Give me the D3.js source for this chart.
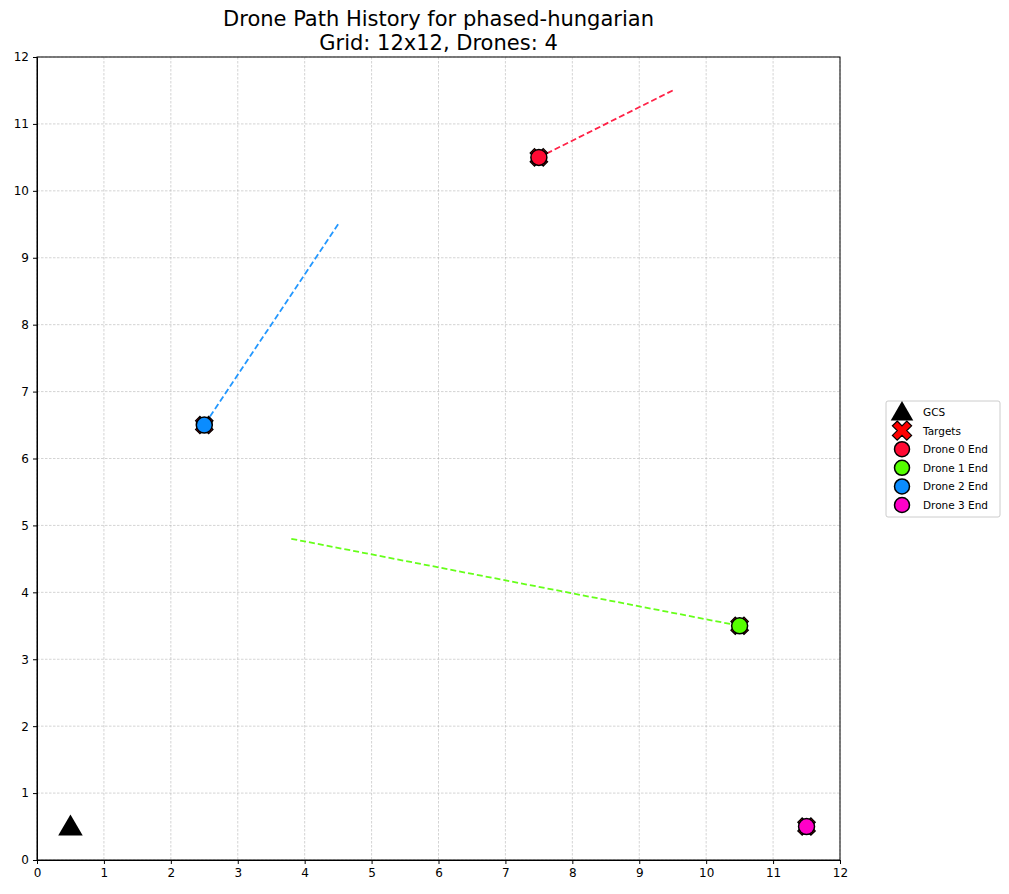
<!DOCTYPE html>
<html><head><meta charset="UTF-8">
<script src="https://d3js.org/d3.v7.min.js"></script>
<style>body{margin:0;background:#fff;font-family:"DejaVu Sans",sans-serif}</style>
</head><body><div id="chart"></div>
<script>
const droneNames = ["Drone 0", "Drone 1", "Drone 2", "Drone 3"];
const droneColors = ["#ff0a33", "#55ff00", "#0a8cff", "#ff00c8"];
const pathStarts = [[9.5, 11.5], [3.8, 4.8], [4.5, 9.5], [11.5, 0.5]];
const pathEnds = [[7.5, 10.5], [10.5, 3.5], [2.5, 6.5], [11.5, 0.5]];
const targets = [[7.5, 10.5], [10.5, 3.5], [2.5, 6.5], [11.5, 0.5]];
const gcs = [0.5, 0.5];
const ticks = d3.range(0, 13);

const W = 1009, H = 894, L = 37, R = 840, T = 57, B = 860;
const svg = d3.select("#chart").append("svg").attr("width", W).attr("height", H);
const x = d3.scaleLinear().domain([0, 12]).range([L, R]);
const y = d3.scaleLinear().domain([0, 12]).range([B, T]);

svg.append("text").attr("x", (L + R) / 2).attr("y", 26).attr("text-anchor", "middle")
  .attr("font-size", 21).text("Drone Path History for phased-hungarian");
svg.append("text").attr("x", (L + R) / 2).attr("y", 50).attr("text-anchor", "middle")
  .attr("font-size", 21).text("Grid: 12x12, Drones: 4");

// grid
const grid = svg.append("g").attr("stroke", "#a8a8a8").attr("stroke-width", 0.5).attr("stroke-dasharray", "2.5,1.5");
ticks.forEach(t => {
  grid.append("line").attr("x1", x(t)).attr("x2", x(t)).attr("y1", T).attr("y2", B);
  grid.append("line").attr("y1", y(t)).attr("y2", y(t)).attr("x1", L).attr("x2", R);
});

svg.append("g").attr("transform", `translate(0,${B})`)
  .call(d3.axisBottom(x).tickValues(ticks).tickSize(4).tickPadding(4))
  .call(g => g.selectAll("text").attr("font-size", 12).attr("font-family", "DejaVu Sans"));
svg.append("g").attr("transform", `translate(${L},0)`)
  .call(d3.axisLeft(y).tickValues(ticks).tickSize(4).tickPadding(4))
  .call(g => g.selectAll("text").attr("font-size", 12).attr("font-family", "DejaVu Sans"));
svg.append("rect").attr("x", L).attr("y", T).attr("width", R - L).attr("height", B - T)
  .attr("fill", "none").attr("stroke", "#000");

// paths
droneNames.forEach((n, i) => {
  svg.append("line").attr("x1", x(pathStarts[i][0])).attr("y1", y(pathStarts[i][1]))
    .attr("x2", x(pathEnds[i][0])).attr("y2", y(pathEnds[i][1]))
    .attr("stroke", droneColors[i]).attr("stroke-opacity", 0.9)
    .attr("stroke-width", 1.8).attr("stroke-dasharray", "6,3");
});

function xMarker(g, cx, cy, s) {
  g.append("path").attr("d", d3.symbol(d3.symbolCross).size(s)())
    .attr("transform", `translate(${cx},${cy}) rotate(45)`)
    .attr("fill", "#ff0000").attr("stroke", "#000").attr("stroke-width", 1.2);
}
function tri(g, cx, cy, s) {
  g.append("path").attr("d", d3.symbol(d3.symbolTriangle).size(s)())
    .attr("transform", `translate(${cx},${cy + 2})`).attr("fill", "#000");
}
targets.forEach(t => xMarker(svg, x(t[0]), y(t[1]), 190));
tri(svg, x(gcs[0]), y(gcs[1]), 260);
pathEnds.forEach((p, i) => svg.append("circle").attr("cx", x(p[0])).attr("cy", y(p[1])).attr("r", 8)
  .attr("fill", droneColors[i]).attr("stroke", "#000").attr("stroke-width", 1.5));

// legend
const lg = svg.append("g").attr("transform", "translate(886,401)");
lg.append("rect").attr("width", 114).attr("height", 116).attr("rx", 2)
  .attr("fill", "#fff").attr("stroke", "#ccc");
const items = ["GCS", "Targets"].concat(droneNames.map(n => n + " End"));
items.forEach((t, i) => {
  const cy = 11 + i * 18.6;
  if (i === 0) tri(lg, 16, cy, 220);
  else if (i === 1) xMarker(lg, 16, cy, 230);
  else lg.append("circle").attr("cx", 16).attr("cy", cy).attr("r", 7.5)
    .attr("fill", droneColors[i - 2]).attr("stroke", "#000").attr("stroke-width", 1.5);
  lg.append("text").attr("x", 37).attr("y", cy + 4).attr("font-size", 10.5).text(t);
});
</script></body></html>
